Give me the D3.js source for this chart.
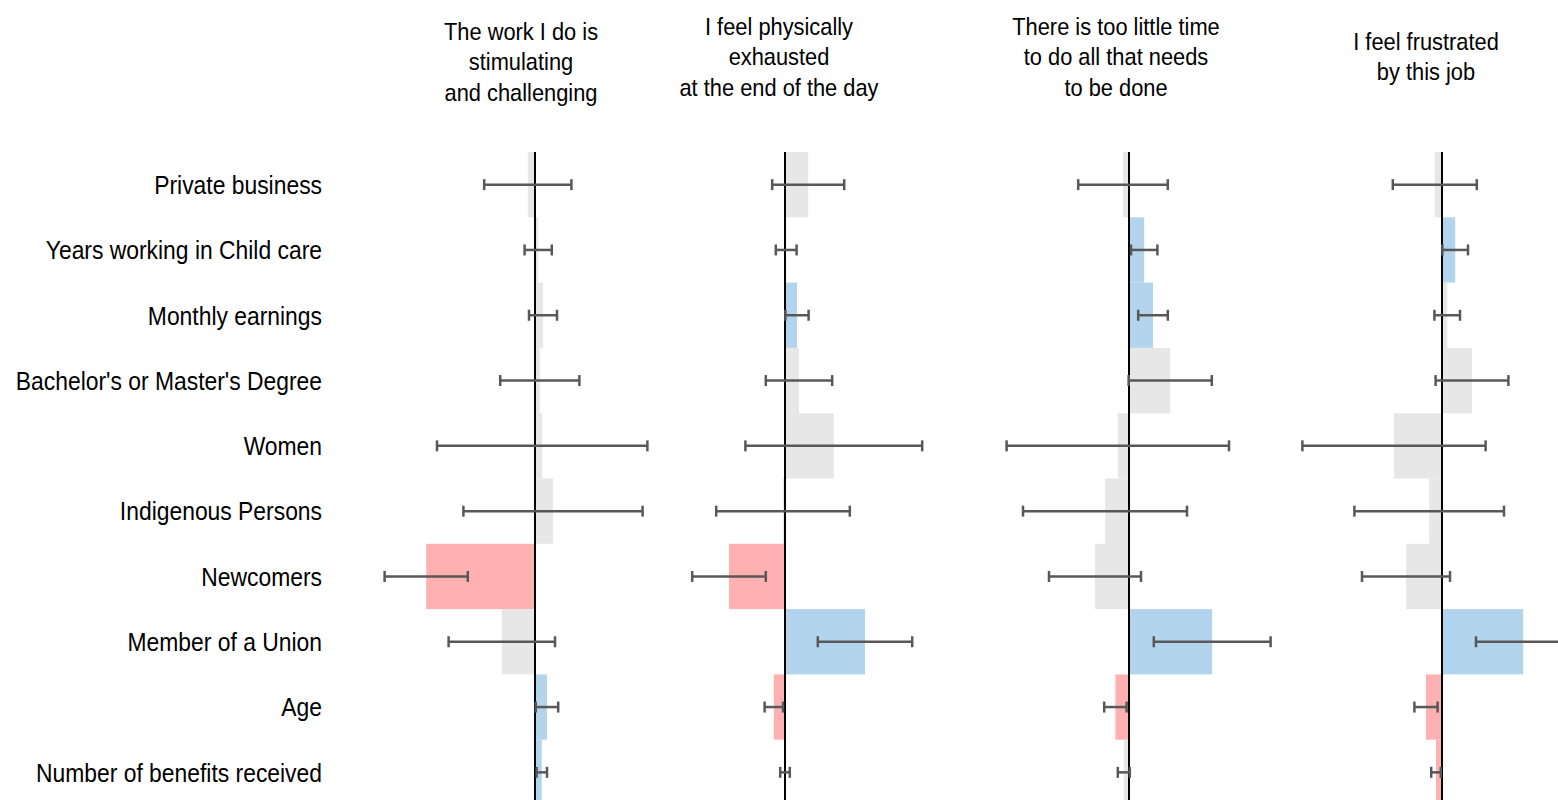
<!DOCTYPE html>
<html>
<head>
<meta charset="utf-8">
<script src="https://cdn.jsdelivr.net/npm/d3@7"></script>
<style>
  html, body { margin: 0; padding: 0; background: #fff; overflow: hidden; }
  text { font-family: "Liberation Sans Narrow", "Arial Narrow", "Liberation Sans", Arial, sans-serif; fill: #000; }
</style>
</head>
<body>
<div id="chart"></div>
<script>
// Row labels (predictors)
const predictors = [
  "Private business",
  "Years working in Child care",
  "Monthly earnings",
  "Bachelor's or Master's Degree",
  "Women",
  "Indigenous Persons",
  "Newcomers",
  "Member of a Union",
  "Age",
  "Number of benefits received"
];

// Panel titles (outcomes)
const outcomes = [
  ["The work I do is", "stimulating", "and challenging"],
  ["I feel physically", "exhausted", "at the end of the day"],
  ["There is too little time", "to do all that needs", "to be done"],
  ["I feel frustrated", "by this job"]
];

// Estimated coefficients, one array per outcome
const estStimulating = [-0.018, 0.008, 0.020, 0.012, 0.018, 0.045, -0.272, -0.083, 0.030, 0.017];
const estExhausted   = [0.058, 0.003, 0.030, 0.035, 0.122, -0.005, -0.140, 0.200, -0.028, 0.000];
const estTooLittle   = [-0.015, 0.038, 0.060, 0.103, -0.028, -0.060, -0.085, 0.208, -0.034, -0.013];
const estFrustrated  = [-0.018, 0.033, 0.013, 0.075, -0.120, -0.032, -0.090, 0.203, -0.040, -0.015];

// Half-width of the confidence intervals
const ciStimulating = [0.109, 0.034, 0.035, 0.099, 0.263, 0.224, 0.104, 0.133, 0.028, 0.013];
const ciExhausted   = [0.090, 0.026, 0.029, 0.083, 0.221, 0.167, 0.092, 0.118, 0.023, 0.012];
const ciTooLittle   = [0.112, 0.033, 0.037, 0.104, 0.278, 0.205, 0.115, 0.146, 0.028, 0.015];
const ciFrustrated  = [0.105, 0.032, 0.032, 0.091, 0.229, 0.187, 0.110, 0.118, 0.029, 0.012];

// x-axis ranges of each panel
const xDomains = [[-0.41, 0.34], [-0.39, 0.36], [-0.4075, 0.3425], [-0.415, 0.335]];

const estimates = [estStimulating, estExhausted, estTooLittle, estFrustrated];
const intervals = [ciStimulating, ciExhausted, ciTooLittle, ciFrustrated];

// Layout
const W = 1558, H = 800;
const panelCenters = [521, 779, 1116, 1426];
const panelHalf = 150;
const titleBase = [40, 35, 35, 50];
const labelRight = 322;
const squeeze = 0.915; // narrow-font look

const colors = { pos: "#b3d4ed", neg: "#ffb1b1", ns: "#e7e7e7" };

const svg = d3.select("#chart").append("svg")
  .attr("width", W).attr("height", H)
  .attr("viewBox", `0 0 ${W} ${H}`);

const y = d3.scaleBand().domain(predictors).range([152, 152 + 65.3 * predictors.length]).padding(0);

// Row labels
svg.append("g").selectAll("text")
  .data(predictors).join("text")
  .attr("transform", d => `translate(${labelRight},${y(d) + y.bandwidth() / 2}) scale(${squeeze},1)`)
  .attr("dy", "0.37em")
  .attr("text-anchor", "end")
  .style("font-size", "25px")
  .text(d => d);

outcomes.forEach((title, i) => {
  const c = panelCenters[i];
  const x = d3.scaleLinear().domain(xDomains[i]).range([c - panelHalf, c + panelHalf]);
  const rows = predictors.map((p, j) => {
    const est = estimates[i][j], ci = intervals[i][j];
    const lo = est - ci, hi = est + ci;
    return { p, est, lo, hi, sig: lo > 0 ? "pos" : hi < 0 ? "neg" : "ns" };
  });

  const g = svg.append("g");

  // Title
  g.append("g")
    .attr("transform", `translate(${c},${titleBase[i]}) scale(${squeeze - 0.005},1)`)
    .append("text")
    .attr("text-anchor", "middle")
    .style("font-size", "24px")
    .selectAll("tspan")
    .data(title).join("tspan")
    .attr("x", 0)
    .attr("y", (d, k) => k * 30.5)
    .text(d => d);

  // Bars
  g.append("g").selectAll("rect")
    .data(rows).join("rect")
    .attr("x", d => Math.min(x(0), x(d.est)))
    .attr("width", d => Math.abs(x(d.est) - x(0)))
    .attr("y", d => y(d.p))
    .attr("height", y.bandwidth())
    .attr("fill", d => colors[d.sig]);

  // Zero line
  g.append("line")
    .attr("x1", x(0)).attr("x2", x(0))
    .attr("y1", y.range()[0]).attr("y2", H)
    .attr("stroke", "#000").attr("stroke-width", 2);

  // Error bars
  const eb = g.append("g").attr("stroke", "#585858").attr("stroke-width", 2.5).attr("fill", "none");
  eb.selectAll("line.ci")
    .data(rows).join("line").attr("class", "ci")
    .attr("x1", d => x(d.lo)).attr("x2", d => x(d.hi))
    .attr("y1", d => y(d.p) + y.bandwidth() / 2)
    .attr("y2", d => y(d.p) + y.bandwidth() / 2);
  ["lo", "hi"].forEach(k => {
    eb.selectAll("line.cap-" + k)
      .data(rows).join("line").attr("class", "cap-" + k)
      .attr("x1", d => x(d[k])).attr("x2", d => x(d[k]))
      .attr("y1", d => y(d.p) + y.bandwidth() / 2 - 5.5)
      .attr("y2", d => y(d.p) + y.bandwidth() / 2 + 5.5);
  });
});
</script>
</body>
</html>
